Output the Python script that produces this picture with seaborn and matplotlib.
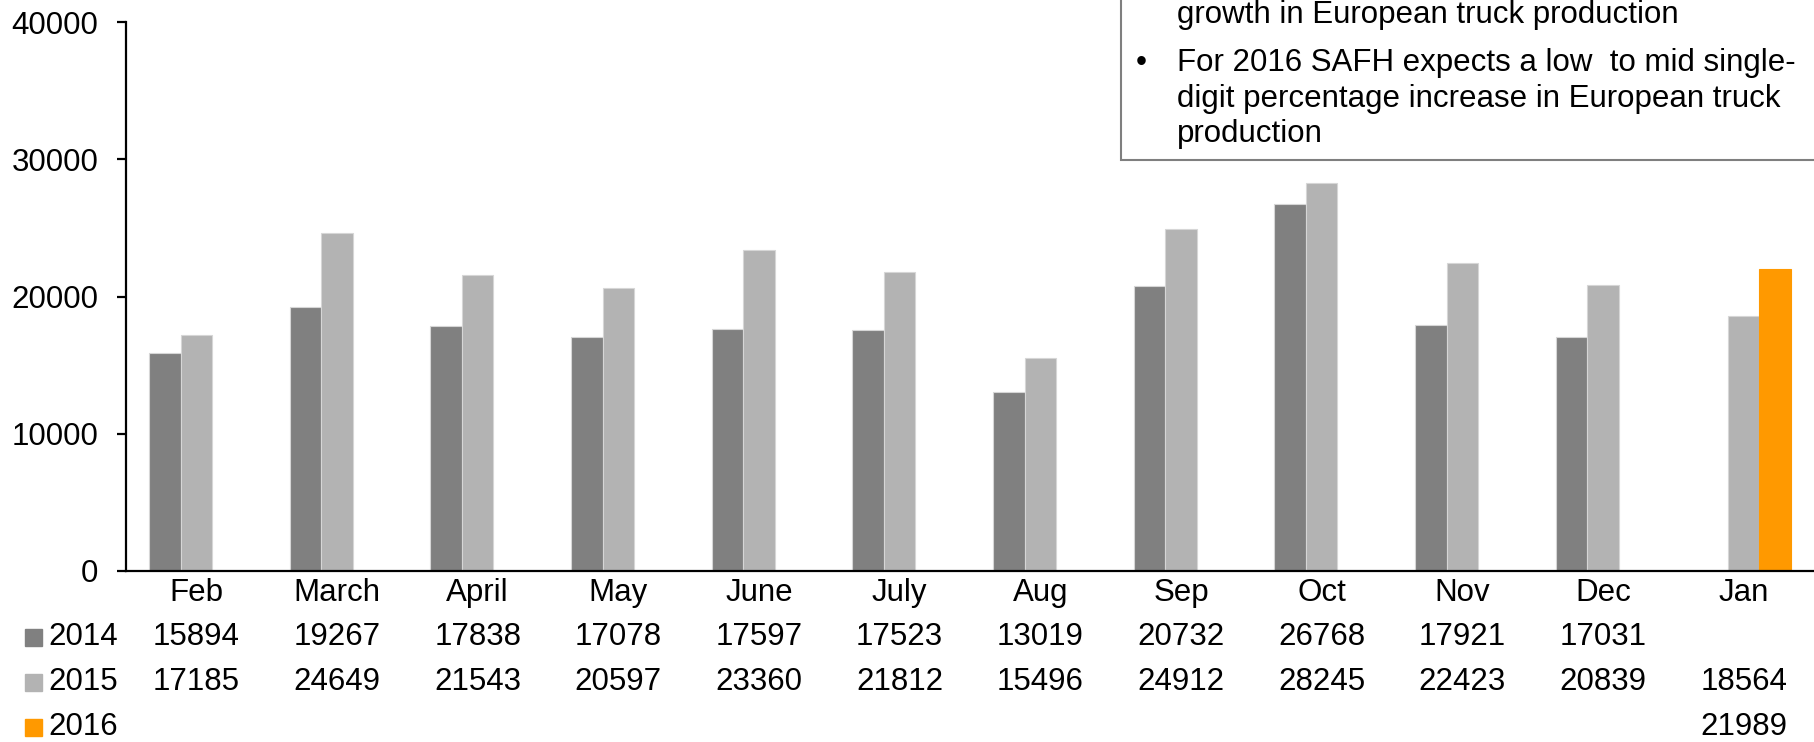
import matplotlib
matplotlib.use("Agg")
import matplotlib.pyplot as plt
import matplotlib.transforms as mtransforms
from matplotlib.patches import Rectangle
import numpy as np
import pandas as pd
import seaborn as sns

months = ["Feb", "March", "April", "May", "June", "July", "Aug", "Sep", "Oct", "Nov", "Dec", "Jan"]
years = ["2014", "2015", "2016"]
vals_2014 = [15894, 19267, 17838, 17078, 17597, 17523, 13019, 20732, 26768, 17921, 17031, None]
vals_2015 = [17185, 24649, 21543, 20597, 23360, 21812, 15496, 24912, 28245, 22423, 20839, 18564]
vals_2016 = [None] * 11 + [21989]
colors = {"2014": "#808080", "2015": "#b3b3b3", "2016": "#ff9900"}
yticks = [0, 10000, 20000, 30000, 40000]
note_lines = [
    ("", "growth in European truck production"),
    ("\u2022", "For 2016 SAFH expects a low  to mid single-"),
    ("", "digit percentage increase in European truck"),
    ("", "production"),
]

series = {"2014": vals_2014, "2015": vals_2015, "2016": vals_2016}
rows = []
for yr in years:
    for m, v in zip(months, series[yr]):
        rows.append({"month": m, "year": yr, "value": np.nan if v is None else v})
df = pd.DataFrame(rows)

sns.set_theme(style="white")
plt.rcParams["font.family"] = ["Liberation Sans", "DejaVu Sans"]
plt.rcParams["text.color"] = "black"
plt.rcParams["ytick.color"] = "black"
plt.rcParams["ytick.labelcolor"] = "black"
FS = 22.5

W, H = 1814, 742
fig = plt.figure(figsize=(W / 100, H / 100), dpi=100)
ax = fig.add_axes([126 / W, 1 - 571 / H, 1 - 126 / W, (571 - 22) / H])

sns.barplot(data=df, x="month", y="value", hue="year", order=months, hue_order=years,
            palette=colors, saturation=1, width=0.675, gap=0, errorbar=None, ax=ax,
            edgecolor="#d6d6d6", linewidth=0.8, legend=False)
for p in ax.patches:
    if p.get_facecolor()[:3] == matplotlib.colors.to_rgb(colors["2016"]):
        p.set_edgecolor(colors["2016"])

ax.set_xlim(-0.5, len(months) - 0.5)
ax.set_ylim(0, 40000)
ax.set_yticks(yticks)
ax.set_yticklabels([str(t) for t in yticks], fontsize=FS, color="black")
ax.set_xticks([])
ax.set_xlabel("")
ax.set_ylabel("")
for s in ["top", "right"]:
    ax.spines[s].set_visible(False)
for s in ["left", "bottom"]:
    ax.spines[s].set_color("black")
    ax.spines[s].set_linewidth(1.6)
ax.tick_params(axis="y", direction="out", length=6.5, width=1.6, color="black", pad=13.5, left=True)

# data table under the axis
trans = mtransforms.blended_transform_factory(ax.transData, fig.transFigure)
row_y = {"month": 1 - 593 / H, "2014": 1 - 637 / H, "2015": 1 - 682 / H, "2016": 1 - 727 / H}
for i, m in enumerate(months):
    ax.text(i, row_y["month"], m, transform=trans, ha="center", va="center", fontsize=FS,
            color="black", clip_on=False)
    for yr in years:
        v = series[yr][i]
        if v is not None:
            ax.text(i, row_y[yr], str(v), transform=trans, ha="center", va="center",
                    fontsize=FS, color="black", clip_on=False)
for yr in years:
    fig.patches.append(Rectangle((25 / W, row_y[yr] - 8.5 / H), 17 / W, 17 / H,
                                 transform=fig.transFigure, color=colors[yr]))
    fig.text(48 / W, row_y[yr], yr, ha="left", va="center", fontsize=FS, color="black")

# note box at top right
fig.patches.append(Rectangle((1121 / W, 1 - 160 / H), 800 / W, 300 / H, transform=fig.transFigure,
                             facecolor="white", edgecolor="#7f7f7f", linewidth=1.5, zorder=5))
baselines = [23, 71, 107, 142]
for (bullet, txt), y in zip(note_lines, baselines):
    if bullet:
        fig.text(1136 / W, 1 - y / H, bullet, ha="left", va="baseline", fontsize=FS,
                 color="black", zorder=6)
    fig.text(1177 / W, 1 - y / H, txt, ha="left", va="baseline", fontsize=FS,
             color="black", zorder=6)

fig.savefig("out.png", dpi=100)
